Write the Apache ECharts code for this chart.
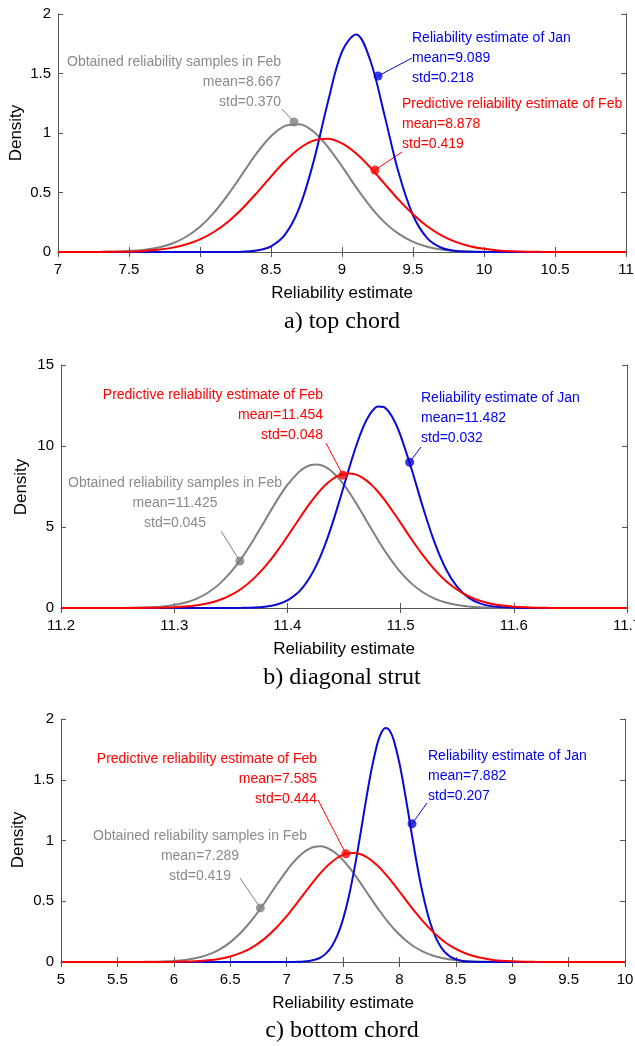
<!DOCTYPE html>
<html>
<head>
<meta charset="utf-8">
<script src="https://cdn.jsdelivr.net/npm/echarts@6/dist/echarts.min.js"></script>
<style>
  html, body { margin: 0; padding: 0; background: #fff; }
  #chart { width: 635px; height: 1046px; }
</style>
</head>
<body>
<div id="chart"></div>
<script>
// a) top chord
const xA = [7.0,7.1,7.2,7.3,7.4,7.5,7.6,7.7,7.8,7.9,8.0,8.1,8.2,8.3,8.4,8.5,8.6,8.7,8.8,8.9,9.0,
  9.1,9.2,9.3,9.4,9.5,9.6,9.7,9.8,9.9,10.0,10.1,10.2,10.3,10.4,10.5,10.6,10.7,10.8,10.9,11.0]
const grayA = [0,0.0001,0.0004,0.0012,0.0031,0.0075,0.0169,0.0354,0.0694,0.126,0.212,0.333,0.486,0.659,0.831,0.973,1.060,1.074,1.011,0.884,0.719,
  0.543,0.382,0.249,0.152,0.0856,0.0448,0.0219,0.0099,0.0042,0.0016,0.0006,0.0002,0,0,0,0,0,0,0,0]
const redA = [0,0.0001,0.0003,0.0008,0.0019,0.0043,0.0091,0.0183,0.0347,0.0625,0.106,0.170,0.257,0.368,0.497,0.634,0.764,0.870,0.936,0.951,0.912,
  0.827,0.709,0.573,0.438,0.317,0.216,0.139,0.0846,0.0487,0.0264,0.0136,0.0066,0.0030,0.0013,0.0005,0.0002,0.0001,0,0,0]
const blueA = [0,0,0,0,0,0,0,0,0,0,0,0.0001,0.0005,0.0026,0.0124,0.048,0.148,0.373,0.760,1.257,1.684,
  1.828,1.607,1.146,0.661,0.309,0.117,0.036,0.009,0.0018,0.0003,0,0,0,0,0,0,0,0,0,0]
const markA = [[8.662, 1.092], [9.232, 0.689], [9.254, 1.479]]   // gray, red, blue
const labelsA = [
  ['Obtained reliability samples in Feb', 'mean=8.667', 'std=0.370'],
  ['Predictive reliability estimate of Feb', 'mean=8.878', 'std=0.419'],
  ['Reliability estimate of Jan', 'mean=9.089', 'std=0.218']
]

// b) diagonal strut
const xB = [11.20,11.21,11.22,11.23,11.24,11.25,11.26,11.27,11.28,11.29,11.30,11.31,11.32,11.33,11.34,11.35,11.36,
  11.37,11.38,11.39,11.40,11.41,
  11.415,11.42,11.425,11.43,11.435,11.44,11.445,11.45,11.455,11.46,11.465,11.47,11.475,11.48,11.485,11.49,11.495,11.50,
  11.51,11.52,11.53,11.54,11.55,11.56,11.57,11.58,11.59,11.60,11.61,11.62,11.63,11.64,11.65,11.66,11.67,11.68,11.69,11.70]
const grayB = [0,0.0001,0.0003,0.0007,0.0019,0.0046,0.0107,0.0235,0.0494,0.0984,0.187,0.338,0.583,0.955,1.489,2.210,3.123,
  4.200,5.377,6.551,7.596,8.386,
  8.649,8.810,8.865,8.810,8.649,8.386,8.031,7.596,7.098,6.551,5.972,5.377,4.783,4.200,3.644,3.123,2.644,2.210,
  1.489,0.955,0.583,0.338,0.187,0.0984,0.0494,0.0235,0.0107,0.0046,0.0019,0.0007,0.0003,0.0001,0,0,0,0,0,0]
const redB = [0,0,0.0001,0.0002,0.0004,0.0010,0.0024,0.0054,0.0117,0.0242,0.0484,0.0923,0.169,0.295,0.495,0.795,1.222,
  1.799,2.533,3.417,4.414,5.461,
  5.976,6.469,6.925,7.334,7.684,7.965,8.166,8.282,8.309,8.246,8.095,7.861,7.552,7.177,6.746,6.273,5.770,5.252,
  4.207,3.229,2.373,1.669,1.125,0.726,0.448,0.265,0.150,0.0814,0.0423,0.0210,0.0100,0.0046,0.0020,0.0008,0.0003,0.0001,0,0]
const blueB = [0,0,0,0,0,0,0,0,0,0,0,0,0,0.0002,0.0007,0.0025,0.0087,
  0.0273,0.0776,0.200,0.467,0.992,
  1.393,1.908,2.552,3.330,4.237,5.268,6.392,7.562,8.733,9.843,10.83,11.62,12.17,12.44,12.41,12.08,11.48,10.64,
  8.50,6.16,4.048,2.412,1.304,0.640,0.284,0.115,0.0419,0.0139,0.0042,0.0011,0.0003,0.0001,0,0,0,0,0,0]
const markB = [[11.358, 2.9], [11.449, 8.2], [11.508, 9.0]]
const labelsB = [
  ['Obtained reliability samples in Feb', 'mean=11.425', 'std=0.045'],
  ['Predictive reliability estimate of Feb', 'mean=11.454', 'std=0.048'],
  ['Reliability estimate of Jan', 'mean=11.482', 'std=0.032']
]

// c) bottom chord
const xC = [5.0,5.1,5.2,5.3,5.4,5.5,5.6,5.7,5.8,5.9,6.0,6.1,6.2,6.3,6.4,6.5,6.6,6.7,6.8,6.9,
  7.0,7.05,7.1,7.15,7.2,7.25,7.3,7.35,7.4,7.45,7.5,7.55,7.6,7.65,7.7,7.75,7.8,7.825,7.85,7.875,7.9,7.925,7.95,
  8.0,8.05,8.1,8.15,8.2,8.25,8.3,8.35,8.4,8.45,8.5,8.55,8.6,
  8.7,8.8,8.9,9.0,9.1,9.2,9.3,9.4,9.5,9.6,9.7,9.8,9.9,10.0]
const grayC = [0,0,0,0,0,0.0001,0.0003,0.0007,0.0017,0.0039,0.0084,0.0170,0.0325,0.0587,0.1002,0.1617,0.2464,0.3544,0.4817,0.619,
  0.750,0.809,0.860,0.901,0.931,0.948,0.952,0.942,0.919,0.884,0.838,0.784,0.723,0.657,0.588,0.520,0.452,0.420,0.389,0.358,0.329,0.301,0.274,
  0.2257,0.183,0.1461,0.1152,0.0896,0.0686,0.0518,0.0386,0.0283,0.0205,0.0146,0.0103,0.0071,
  0.0033,0.0014,0.0006,0.0002,0.0001,0,0,0,0,0,0,0,0,0]
const redC = [0,0,0,0,0,0,0,0.0001,0.0003,0.0007,0.0015,0.0033,0.0069,0.0137,0.0255,0.0453,0.0767,0.1233,0.1883,0.2733,
  0.3772,0.4347,0.4948,0.5560,0.6169,0.6760,0.7312,0.7811,0.8237,0.8579,0.8822,0.8957,0.898,0.8889,0.869,0.838,0.799,0.776,0.752,0.726,0.6987,0.670,0.641,
  0.5804,0.519,0.4584,0.3999,0.3443,0.2927,0.2457,0.2037,0.1667,0.1347,0.1074,0.0847,0.0659,
  0.0384,0.0213,0.0112,0.0056,0.0027,0.0012,0.0005,0.0002,0.0001,0,0,0,0,0]
const blueC = [0,0,0,0,0,0,0,0,0,0,0,0,0,0,0,0,0,0,0,0,
  0.0002,0.0006,0.0015,0.0037,0.0085,0.0182,0.0369,0.0709,0.128,0.2184,0.351,0.5326,0.762,1.028,1.309,1.572,1.782,1.855,1.904,1.926,1.920,1.886,1.826,
  1.638,1.386,1.107,0.8334,0.592,0.397,0.251,0.1495,0.0841,0.0447,0.0224,0.0106,0.0047,
  0.0008,0.0001,0,0,0,0,0,0,0,0,0,0,0,0]
const markC = [[6.767, 0.445], [7.526, 0.89], [8.112, 1.137]]
const labelsC = [
  ['Obtained reliability samples in Feb', 'mean=7.289', 'std=0.419'],
  ['Predictive reliability estimate of Feb', 'mean=7.585', 'std=0.444'],
  ['Reliability estimate of Jan', 'mean=7.882', 'std=0.207']
]

const captions = ['a) top chord', 'b) diagonal strut', 'c) bottom chord']
const xTitle = 'Reliability estimate'
const yTitle = 'Density'

const colors = ['#808080', '#ff0000', '#0a0ad2']   // gray, red, blue
const textColors = ['#8a8a8a', '#ff0000', '#0000f0']
const sans = '"Liberation Sans", Arial, sans-serif'
const serif = '"Liberation Serif", "Times New Roman", serif'

const panels = [
  { xs: xA, ys: [grayA, redA, blueA], marks: markA, labels: labelsA,
    xMin: 7, xMax: 11, xInt: 0.5, yMax: 2, yInt: 0.5,
    grid: { left: 58, top: 14, width: 568, height: 238 }, yName: [16, 133],
    text: [{ x: 281, y: 52, align: 'right' }, { x: 402, y: 94, align: 'left' }, { x: 412, y: 28, align: 'left' }],
    ends: [[282, 109], [402, 152], [412, 58]], caption: 322 },
  { xs: xB, ys: [grayB, redB, blueB], marks: markB, labels: labelsB,
    xMin: 11.2, xMax: 11.7, xInt: 0.1, yMax: 15, yInt: 5,
    grid: { left: 61, top: 365, width: 566, height: 243 }, yName: [21, 487],
    text: [{ x: 175, y: 473, align: 'center' }, { x: 323, y: 385, align: 'right' }, { x: 421, y: 388, align: 'left' }],
    ends: [[221, 531], [326, 443], [421, 447]], caption: 678 },
  { xs: xC, ys: [grayC, redC, blueC], marks: markC, labels: labelsC,
    xMin: 5, xMax: 10, xInt: 0.5, yMax: 2, yInt: 0.5,
    grid: { left: 61, top: 719, width: 564, height: 243 }, yName: [18, 840],
    text: [{ x: 200, y: 826, align: 'center' }, { x: 317, y: 749, align: 'right' }, { x: 428, y: 746, align: 'left' }],
    ends: [[240, 878], [318, 800], [427, 803]], caption: 1031 }
]

const axisLine = { show: true, lineStyle: { color: '#555', width: 1 } }
const tick = { show: true, inside: true, length: 5, lineStyle: { color: '#555' } }
const tickLabel = { color: '#000', fontSize: 15, fontFamily: sans }

const grid = [], xAxis = [], yAxis = [], series = []
const markSeries = []
panels.forEach((p, i) => {
  grid.push(Object.assign({ outerBoundsMode: 'none' }, p.grid))
  xAxis.push({
    type: 'value', gridIndex: i, min: p.xMin, max: p.xMax, interval: p.xInt, position: 'bottom',
    axisLine, axisTick: tick, splitLine: { show: false },
    axisLabel: Object.assign({ margin: 10, showMaxLabel: true }, tickLabel),
    name: xTitle, nameLocation: 'middle', nameGap: 33,
    nameTextStyle: { color: '#000', fontSize: 17, fontFamily: sans }
  })
  xAxis.push({
    type: 'value', gridIndex: i, min: p.xMin, max: p.xMax, interval: p.xInt, position: 'top',
    axisLine, axisTick: tick, splitLine: { show: false }, axisLabel: { show: false }
  })
  yAxis.push({
    type: 'value', gridIndex: i, min: 0, max: p.yMax, interval: p.yInt, position: 'left',
    axisLine, axisTick: tick, splitLine: { show: false },
    axisLabel: Object.assign({ margin: 7 }, tickLabel)
  })
  yAxis.push({
    type: 'value', gridIndex: i, min: 0, max: p.yMax, interval: p.yInt, position: 'right',
    axisLine, axisTick: tick, splitLine: { show: false }, axisLabel: { show: false }
  })
  // draw order: gray, blue, red
  ;[0, 2, 1].forEach(k => {
    series.push({
      type: 'line', xAxisIndex: 2 * i, yAxisIndex: 2 * i,
      data: p.xs.map((x, j) => [x, p.ys[k][j]]),
      smooth: 0.35, showSymbol: false, silent: true,
      lineStyle: { color: colors[k], width: 2 }
    })
  })
  markSeries.push(series.length)
  series.push({
    type: 'scatter', xAxisIndex: 2 * i, yAxisIndex: 2 * i, symbolSize: 9, z: 5,
    data: p.marks.map((m, k) => ({ value: m, itemStyle: { color: colors[k] } }))
  })
})

const myChart = echarts.init(document.getElementById('chart'))
myChart.setOption({
  animation: false,
  backgroundColor: '#fff',
  grid, xAxis, yAxis, series
})

// annotations: leader lines from each marker, labels, y titles and captions
const graphic = []
panels.forEach((p, i) => {
  p.marks.forEach((m, k) => {
    const px = myChart.convertToPixel({ seriesIndex: markSeries[i] }, m)
    graphic.push({
      type: 'line', z: 3,
      shape: { x1: px[0], y1: px[1], x2: p.ends[k][0], y2: p.ends[k][1] },
      style: { stroke: colors[k], lineWidth: 1 }
    })
    graphic.push({
      type: 'text', x: p.text[k].x, y: p.text[k].y, z: 3,
      style: {
        text: p.labels[k].join('\n'), fill: textColors[k], font: '14px ' + sans,
        textAlign: p.text[k].align, align: p.text[k].align,
        textVerticalAlign: 'top', verticalAlign: 'top', lineHeight: 20
      }
    })
  })
  graphic.push({
    type: 'text', x: p.yName[0], y: p.yName[1], rotation: Math.PI / 2, z: 3,
    style: {
      text: yTitle, fill: '#000', font: '17px ' + sans,
      textAlign: 'center', align: 'center', textVerticalAlign: 'middle', verticalAlign: 'middle'
    }
  })
  graphic.push({
    type: 'text', x: 342, y: p.caption, z: 3,
    style: {
      text: captions[i], fill: '#000', font: '24px ' + serif,
      textAlign: 'center', align: 'center', textVerticalAlign: 'middle', verticalAlign: 'middle'
    }
  })
})
myChart.setOption({ graphic })
</script>
</body>
</html>
